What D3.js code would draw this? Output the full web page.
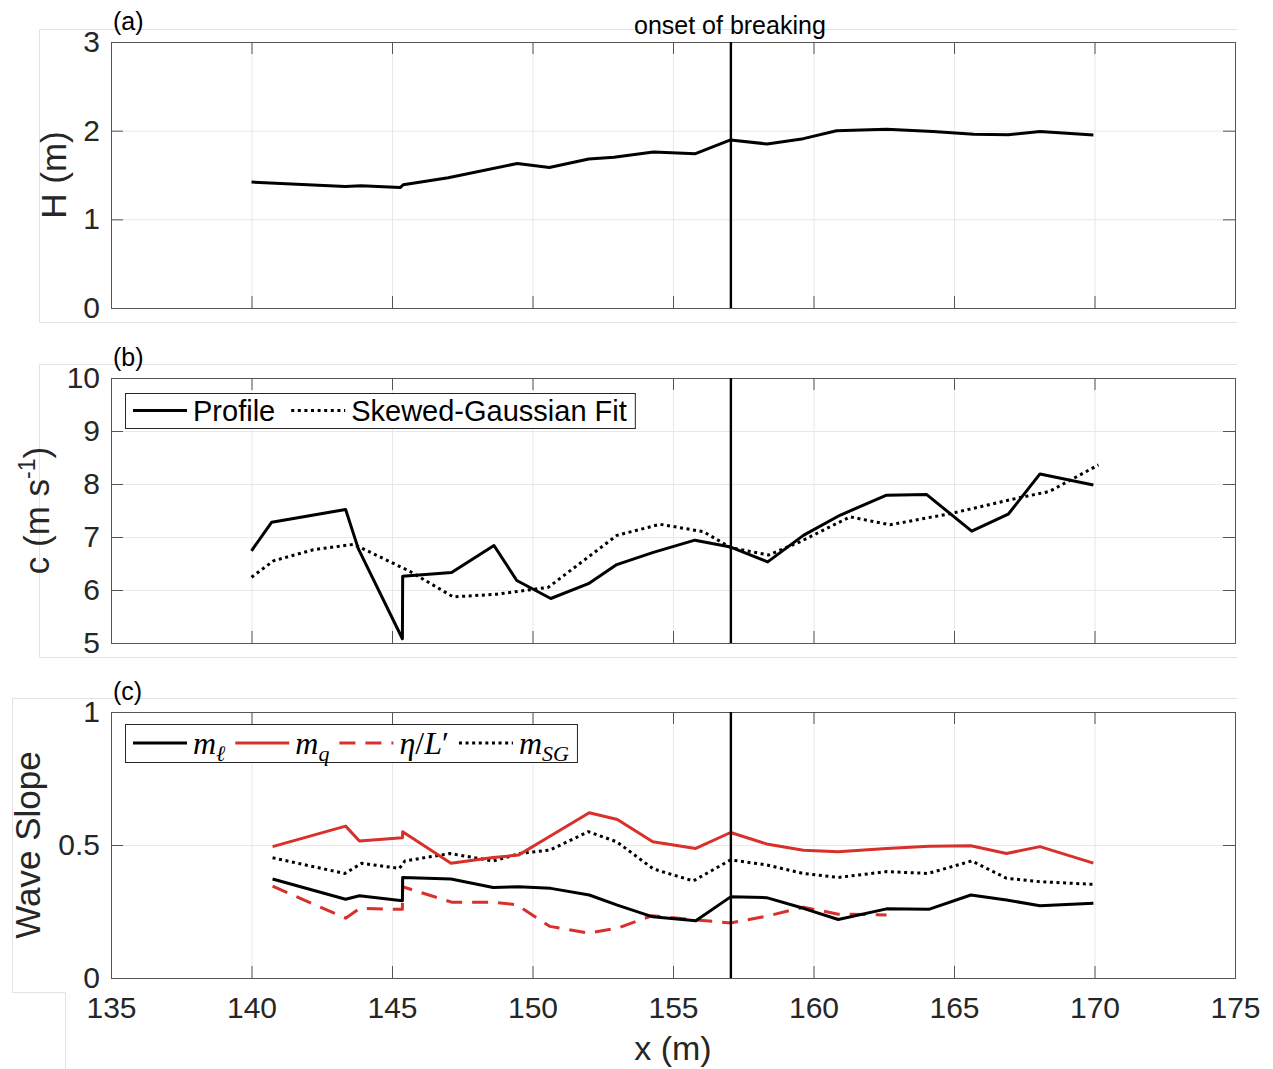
<!DOCTYPE html>
<html><head><meta charset="utf-8">
<script src="https://cdn.jsdelivr.net/npm/d3@7"></script>
<style>body{margin:0;background:#fff}svg{display:block}</style>
</head><body>
<svg id="chart" width="1273" height="1069"></svg>
<script>
// ---------- data ----------
const xTicks = [135, 140, 145, 150, 155, 160, 165, 170, 175];
const hTicks = [0, 1, 2, 3];
const cTicks = [5, 6, 7, 8, 9, 10];
const sTicks = [0, 0.5, 1];
const breakingX = 157.06;

const hX = [140.0, 143.34, 143.9, 145.3, 145.4, 147.0, 149.46, 150.6, 152.0, 152.9, 154.3, 155.8, 157.05, 158.35, 159.64, 160.82, 162.6, 164.25, 165.7, 166.93, 168.06, 169.96];
const hVals = [1.42, 1.37, 1.38, 1.36, 1.39, 1.47, 1.63, 1.585, 1.68, 1.70, 1.76, 1.74, 1.895, 1.85, 1.91, 2.0, 2.015, 1.99, 1.96, 1.955, 1.99, 1.95];

const cProfileX = [140.0, 140.72, 143.35, 143.8, 145.37, 145.38, 147.12, 148.63, 149.44, 150.65, 151.99, 153.0, 154.3, 155.78, 157.05, 158.37, 159.64, 160.94, 162.6, 164.03, 165.63, 166.93, 168.06, 169.96];
const cProfile = [6.74, 7.28, 7.52, 6.78, 5.08, 6.26, 6.33, 6.84, 6.18, 5.84, 6.12, 6.48, 6.71, 6.94, 6.81, 6.53, 7.03, 7.41, 7.79, 7.80, 7.11, 7.43, 8.19, 7.98];

const cFitX = [140.0, 140.78, 142.2, 143.62, 144.2, 145.64, 147.18, 148.73, 150.56, 153.0, 154.54, 156.08, 157.06, 158.4, 159.52, 161.3, 162.72, 164.86, 167.23, 168.4, 170.14];
const cFit = [6.24, 6.55, 6.76, 6.86, 6.72, 6.35, 5.87, 5.92, 6.05, 7.03, 7.24, 7.10, 6.80, 6.66, 6.91, 7.38, 7.23, 7.44, 7.73, 7.86, 8.36];

const slopeX = [140.75, 143.35, 143.84, 145.37, 145.38, 147.1, 148.6, 149.5, 150.65, 152.02, 153.02, 154.28, 155.81, 157.05, 158.33, 159.64, 160.88, 162.6, 164.1, 165.6, 166.87, 168.06, 169.96];
const mL = [0.372, 0.296, 0.309, 0.29, 0.378, 0.372, 0.34, 0.343, 0.337, 0.312, 0.274, 0.23, 0.215, 0.305, 0.302, 0.262, 0.22, 0.26, 0.258, 0.312, 0.293, 0.272, 0.281];
const mQ = [0.494, 0.571, 0.515, 0.527, 0.55, 0.431, 0.453, 0.462, 0.535, 0.621, 0.596, 0.512, 0.487, 0.547, 0.504, 0.48, 0.475, 0.487, 0.495, 0.497, 0.468, 0.494, 0.432];

const mSGX = [140.75, 143.32, 143.92, 145.26, 145.46, 147.06, 148.6, 149.55, 150.62, 151.99, 153.0, 154.3, 155.72, 157.05, 158.33, 159.64, 160.88, 162.6, 164.08, 165.63, 166.87, 168.06, 169.96];
const mSG = [0.452, 0.393, 0.431, 0.412, 0.44, 0.468, 0.44, 0.468, 0.481, 0.55, 0.512, 0.41, 0.365, 0.444, 0.425, 0.393, 0.378, 0.4, 0.393, 0.44, 0.375, 0.362, 0.352];

const etaX = [140.75, 143.35, 143.86, 145.37, 145.38, 147.12, 148.6, 149.44, 150.62, 151.99, 153.05, 154.24, 155.84, 157.05, 158.33, 159.64, 160.88, 162.6];
const etaL = [0.345, 0.225, 0.262, 0.258, 0.343, 0.285, 0.285, 0.275, 0.194, 0.169, 0.188, 0.234, 0.218, 0.207, 0.232, 0.266, 0.24, 0.237];

// ---------- layout ----------
const RED = '#d8302a';
const AX = '#555555';
const TXT = '#262626';
const GRID = '#e8e8e8';
const SANS = '"Liberation Sans", Arial, Helvetica, sans-serif';
const SERIF = '"Liberation Serif", "Times New Roman", serif';

const svg = d3.select('#chart');
const x = d3.scaleLinear().domain([135, 175]).range([111, 1235]);
const L = 111, R = 1235;

// faint outer frames (figure background artifacts)
const faint = svg.append('g').attr('fill', 'none').attr('stroke', '#e2e2e2').attr('stroke-width', 1);
faint.append('path').attr('d', 'M1237,29.5H39.5V322.5H1237');
faint.append('path').attr('d', 'M1237,364.5H39.5V657.5H1237');
faint.append('path').attr('d', 'M1237,698.5H12.5V992.5H65.5V1069');

const panels = [
  {top: 42, bottom: 308, dom: [0, 3], yt: hTicks, tag: '(a)', tagY: 30, ylabX: 66, xLabels: false},
  {top: 378, bottom: 643, dom: [5, 10], yt: cTicks, tag: '(b)', tagY: 366, ylabX: 49, xLabels: false},
  {top: 712, bottom: 978, dom: [0, 1], yt: sTicks, tag: '(c)', tagY: 700, ylabX: 40, xLabels: true}
];

panels.forEach(p => {
  p.y = d3.scaleLinear().domain(p.dom).range([p.bottom, p.top]);
  const g = svg.append('g');
  p.g = g;
  const h = p.bottom - p.top;
  g.append('g').attr('transform', `translate(0,${p.bottom})`)
    .call(d3.axisBottom(x).tickValues(xTicks).tickSize(-h).tickFormat(''))
    .call(s => s.select('.domain').remove())
    .call(s => s.selectAll('line').attr('stroke', GRID));
  g.append('g').attr('transform', `translate(${L},0)`)
    .call(d3.axisLeft(p.y).tickValues(p.yt).tickSize(-(R - L)).tickFormat(''))
    .call(s => s.select('.domain').remove())
    .call(s => s.selectAll('line').attr('stroke', GRID));
  p.plot = g.append('g');
  p.axes = g.append('g');
});

const line = (p, xs, ys) => d3.line().x((d, i) => x(xs[i])).y(d => p.y(d))(ys);

function drawSeries(p, xs, ys, color, dash) {
  p.plot.append('path').attr('d', line(p, xs, ys)).attr('fill', 'none')
    .attr('stroke', color).attr('stroke-width', 3)
    .attr('stroke-linejoin', 'round')
    .attr('stroke-dasharray', dash || null);
}

drawSeries(panels[0], hX, hVals, '#000');
drawSeries(panels[1], cFitX, cFit, '#000', '3,3.6');
drawSeries(panels[1], cProfileX, cProfile, '#000');
drawSeries(panels[2], etaX, etaL, RED, '16,10');
drawSeries(panels[2], mSGX, mSG, '#000', '3,3.6');
drawSeries(panels[2], slopeX, mL, '#000');
drawSeries(panels[2], slopeX, mQ, RED);

panels.forEach(p => {
  const a = p.axes;
  const bottom = a.append('g').attr('transform', `translate(0,${p.bottom})`)
    .call(d3.axisBottom(x).tickValues(xTicks).tickSize(-12).tickPadding(19)
      .tickFormat(p.xLabels ? d3.format('d') : ''));
  const top = a.append('g').attr('transform', `translate(0,${p.top})`)
    .call(d3.axisTop(x).tickValues(xTicks).tickSize(-12).tickFormat(''));
  const left = a.append('g').attr('transform', `translate(${L},0)`)
    .call(d3.axisLeft(p.y).tickValues(p.yt).tickSize(-12).tickPadding(11).tickFormat(d => String(d)));
  const right = a.append('g').attr('transform', `translate(${R},0)`)
    .call(d3.axisRight(p.y).tickValues(p.yt).tickSize(-12).tickFormat(''));
  [bottom, top, left, right].forEach(s => {
    s.select('.domain').attr('stroke', AX).attr('stroke-width', 1);
    s.selectAll('.tick line').attr('stroke', AX);
    s.selectAll('text').attr('fill', TXT).attr('font-family', SANS).attr('font-size', 30);
  });
  a.append('line').attr('x1', x(breakingX)).attr('x2', x(breakingX))
    .attr('y1', p.top).attr('y2', p.bottom).attr('stroke', '#000').attr('stroke-width', 2.4);
  svg.append('text').attr('x', 113).attr('y', p.tagY).text(p.tag)
    .attr('font-family', SANS).attr('font-size', 25).attr('fill', '#000');
});

svg.append('text').attr('x', x(breakingX) - 1).attr('y', 34).attr('text-anchor', 'middle')
  .attr('font-family', SANS).attr('font-size', 25).attr('fill', '#000').text('onset of breaking');

function yLabel(p, build) {
  const t = svg.append('text')
    .attr('transform', `translate(${p.ylabX},${(p.top + p.bottom) / 2}) rotate(-90)`)
    .attr('text-anchor', 'middle').attr('font-family', SANS).attr('font-size', 35).attr('fill', TXT);
  build(t);
}
yLabel(panels[0], t => t.text('H (m)'));
yLabel(panels[1], t => {
  t.append('tspan').text('c (m s');
  t.append('tspan').attr('font-size', 23).attr('dy', -14).text('-1');
  t.append('tspan').attr('dy', 14).text(')');
});
yLabel(panels[2], t => t.text('Wave Slope'));

svg.append('text').attr('x', x(155)).attr('y', 1060).attr('text-anchor', 'middle')
  .attr('font-family', SANS).attr('font-size', 34).attr('fill', TXT).text('x (m)');

// ---------- legends ----------
function legend(top, height, items, fontSize, gapAfter, rightPad) {
  const g = svg.append('g');
  const box = g.append('rect').attr('x', 125.5).attr('y', top + 0.5).attr('height', height)
    .attr('fill', '#fff').attr('stroke', '#262626').attr('stroke-width', 1);
  let cx = 133;
  const cy = top + height / 2;
  items.forEach(it => {
    g.append('line').attr('x1', cx).attr('x2', cx + 54).attr('y1', cy).attr('y2', cy)
      .attr('stroke', it.color).attr('stroke-width', 3).attr('stroke-dasharray', it.dash || null);
    cx += 60;
    const t = g.append('text').attr('x', cx).attr('y', cy + fontSize * 0.35)
      .attr('font-size', fontSize).attr('fill', '#000');
    it.build(t);
    cx += t.node().getComputedTextLength() + gapAfter;
  });
  box.attr('width', cx - gapAfter + rightPad - 125);
}

legend(393, 35, [
  {color: '#000', build: t => t.attr('font-family', SANS).text('Profile')},
  {color: '#000', dash: '3,3.6', build: t => t.attr('font-family', SANS).text('Skewed-Gaussian Fit')}
], 29, 16, 8);

function mathSub(t, base, sub) {
  t.attr('font-family', SERIF).attr('font-style', 'italic');
  t.append('tspan').text(base);
  t.append('tspan').attr('font-size', 22).attr('dy', 7).text(sub);
}
legend(724, 38, [
  {color: '#000', build: t => mathSub(t, 'm', 'ℓ')},
  {color: RED, build: t => mathSub(t, 'm', 'q')},
  {color: RED, dash: '16,10', build: t => {
    t.attr('font-family', SERIF).attr('font-style', 'italic');
    t.append('tspan').text('η');
    t.append('tspan').attr('font-style', 'normal').text('/');
    t.append('tspan').text('L');
    t.append('tspan').attr('font-style', 'normal').text('′');
  }},
  {color: '#000', dash: '3,3.6', build: t => mathSub(t, 'm', 'SG')}
], 32, 10, 8);
</script>
</body></html>
